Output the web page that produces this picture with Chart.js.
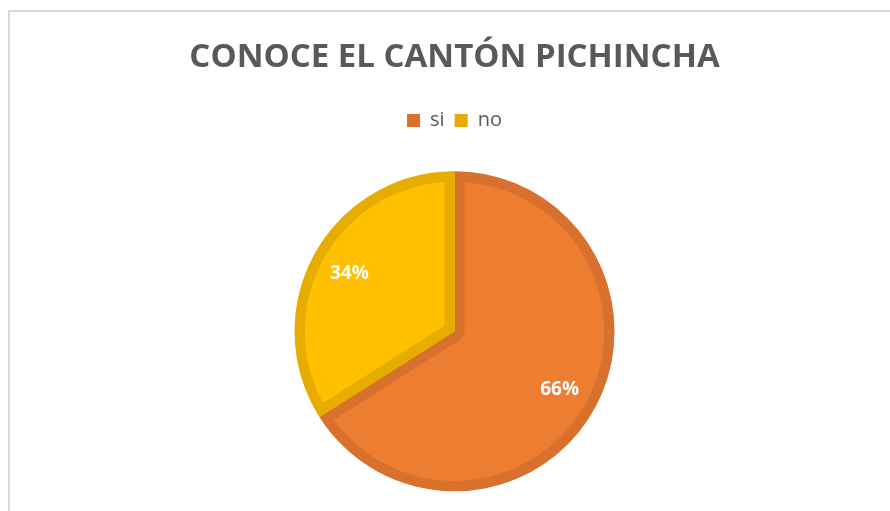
<!DOCTYPE html>
<html>
<head>
<meta charset="utf-8">
<script src="https://cdn.jsdelivr.net/npm/chart.js@4"></script>
<style>
  html, body { margin: 0; padding: 0; background: #fff; overflow: hidden; }
  #frame { position: absolute; left: 8px; top: 10px; width: 900px; height: 560px;
           border-left: 2px solid #d9d9d9; border-top: 2px solid #d9d9d9; }
  #wrap { position: absolute; left: 0; top: 0; width: 889px; height: 530px; }
</style>
</head>
<body>
<div id="frame"><div id="wrap"><canvas id="chart"></canvas></div></div>
<script>
const labels = ['si', 'no'];
const values = [66, 34];
const fillColors = ['#ED7D31', '#FFC000'];
const edgeColors = ['#D7712D', '#E6AD00'];

// white percent labels inside each slice
const sliceLabels = {
  id: 'sliceLabels',
  afterDatasetsDraw(chart) {
    const ctx = chart.ctx;
    const meta = chart.getDatasetMeta(0);
    const total = values.reduce((a, b) => a + b, 0);
    ctx.save();
    ctx.fillStyle = '#ffffff';
    ctx.font = 'bold 19px "Open Sans"';
    ctx.textAlign = 'center';
    ctx.textBaseline = 'middle';
    meta.data.forEach((arc, i) => {
      const mid = (arc.startAngle + arc.endAngle) / 2;
      const r = arc.outerRadius * 0.75;
      const x = arc.x + Math.cos(mid) * r;
      const y = arc.y + Math.sin(mid) * r;
      ctx.fillText(Math.round(values[i] / total * 100) + '%', x, y);
    });
    ctx.restore();
  }
};

new Chart(document.getElementById('chart'), {
  type: 'pie',
  data: {
    labels: labels,
    datasets: [{
      data: values,
      backgroundColor: fillColors,
      borderColor: edgeColors,
      borderWidth: 10,
      borderAlign: 'inner',
      hoverOffset: 0
    }]
  },
  options: {
    responsive: true,
    maintainAspectRatio: false,
    animation: false,
    radius: 160,
    layout: { padding: { top: 0, bottom: 20 } },
    plugins: {
      title: {
        display: true,
        text: 'CONOCE EL CANTÓN PICHINCHA',
        color: '#595959',
        font: { family: 'Open Sans', size: 33, weight: 'bold' },
        padding: { top: 26, bottom: 23 }
      },
      legend: {
        position: 'top',
        labels: {
          color: '#595959',
          font: { family: 'Open Sans', size: 20 },
          boxWidth: 13,
          boxHeight: 13,
          generateLabels: (chart) => labels.map((l, i) => ({
            text: l, fillStyle: edgeColors[i], strokeStyle: edgeColors[i],
            lineWidth: 0, index: i, fontColor: '#595959'
          }))
        }
      },
      tooltip: { enabled: false }
    }
  },
  plugins: [sliceLabels]
});
</script>
</body>
</html>
